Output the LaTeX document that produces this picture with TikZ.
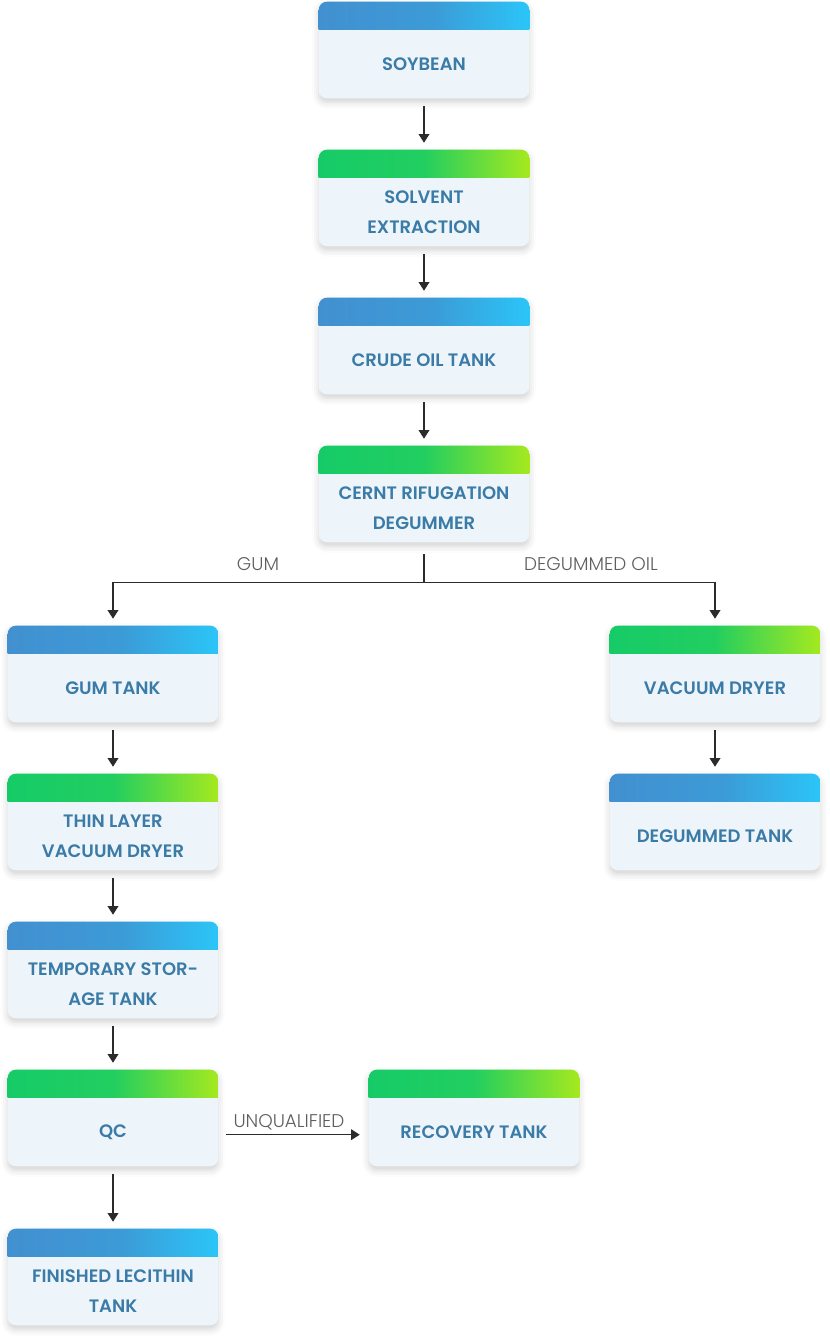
\documentclass[tikz,border=0pt]{standalone}
\usepackage{fontspec}
\usetikzlibrary{positioning,arrows.meta,backgrounds,shadows.blur}

\newfontfamily\stagefont{Poppins SemiBold}
\newfontfamily\notefont{Poppins Light}

\definecolor{bodyfill}{HTML}{EEF5FA}
\definecolor{stagetext}{HTML}{3B7BA7}
\definecolor{notetext}{HTML}{5E5E5E}
\definecolor{wire}{HTML}{2B2B2B}
\definecolor{blueA}{HTML}{4290D0}
\definecolor{blueB}{HTML}{3C9BD6}
\definecolor{blueC}{HTML}{2BC5F8}
\definecolor{greenA}{HTML}{16CB67}
\definecolor{greenB}{HTML}{22CE60}
\definecolor{greenC}{HTML}{A5E91F}

\pgfdeclarehorizontalshading{blueband}{100bp}{color(0bp)=(blueA); color(25bp)=(blueA); color(52bp)=(blueB); color(75bp)=(blueC); color(100bp)=(blueC)}
\pgfdeclarehorizontalshading{greenband}{100bp}{color(0bp)=(greenA); color(25bp)=(greenA); color(50bp)=(greenB); color(75bp)=(greenC); color(100bp)=(greenC)}

\def\headh{21pt}

\begin{document}
\begin{tikzpicture}[x=0.75pt,y=-0.75pt,node distance=111pt]
    \tikzstyle{stage}=[rectangle,minimum width=157.5pt,minimum height=51pt,inner sep=0pt,
        align=center,text=stagetext,font=\stagefont\fontsize{13.5}{22.5}\selectfont]
    \tikzstyle{note}=[text=notetext,font=\notefont\fontsize{13.8}{16}\selectfont]
    \tikzstyle{flow}=[-{Triangle[width=8pt,length=6.5pt]},draw=wire,line width=1.1pt,
        shorten <=6pt,shorten >=5.25pt]
    \tikzstyle{branch}=[draw=wire,line width=1.1pt]

    \useasboundingbox (0,0) rectangle (829,1344);

    % Main column
    \node[stage] (soy) at (424,64) {SOYBEAN};
    \node[stage,below of=soy] (ext) {SOLVENT\\EXTRACTION};
    \node[stage,below of=ext] (crude) {CRUDE OIL TANK};
    \node[stage,below of=crude] (cernt) {CERNT RIFUGATION\\DEGUMMER};

    % Gum side
    \node[stage] (gum) at (113,688) {GUM TANK};
    \node[stage,below of=gum] (thin) {THIN LAYER\\VACUUM DRYER};
    \node[stage,below of=thin] (temp) {TEMPORARY STOR-\\AGE TANK};
    \node[stage,below of=temp] (qc) {QC};
    \node[stage,below of=qc,node distance=119.25pt] (fin) {FINISHED LECITHIN\\TANK};
    \node[stage,right of=qc,node distance=270.75pt] (rec) {RECOVERY TANK};

    % Oil side
    \node[stage] (vac) at (715,688) {VACUUM DRYER};
    \node[stage,below of=vac] (deg) {DEGUMMED TANK};

    % Cards: body, shadow and coloured head
    \begin{scope}[on background layer]
    \foreach \n/\band in {soy/blueband,ext/greenband,crude/blueband,cernt/greenband,
        gum/blueband,thin/greenband,temp/blueband,qc/greenband,fin/blueband,
        rec/greenband,vac/greenband,deg/blueband}
    {
        \fill[bodyfill,rounded corners=6pt,
            blur shadow={shadow xshift=0pt,shadow yshift=-3pt,shadow blur radius=5pt,shadow opacity=18}]
            ([yshift=\headh]\n.north west) rectangle (\n.south east);
        \begin{scope}
            \clip[rounded corners=6pt] ([yshift=\headh]\n.north west) rectangle (\n.south east);
            \shade[shading=\band] ([yshift=\headh]\n.north west) rectangle (\n.north east);
        \end{scope}
    }
    \end{scope}

    % Straight steps
    \foreach \a/\b in {soy/ext,ext/crude,crude/cernt,gum/thin,thin/temp,temp/qc,qc/fin,vac/deg}
        \draw[flow] (\a.south) -- ([yshift=\headh]\b.north);

    % Split after the degummer
    \coordinate[below=30pt of cernt] (split);
    \draw[branch] ([yshift=-9pt]cernt.south) -- (split);
    \draw[flow,shorten <=0pt] (split) -| ([yshift=\headh]gum.north);
    \draw[flow,shorten <=0pt] (split) -| ([yshift=\headh]vac.north);
    \node[note] (gumnote) at (258,564) {GUM};
    \node[note] (oilnote) at (591,564) {DEGUMMED OIL};

    % Rejected batches
    \draw[flow,shorten >=6.75pt] ([yshift=-2pt]qc.east) -- ([yshift=-2pt]rec.west);
    \node[note] (qcnote) at (289,1122) {UNQUALIFIED};
\end{tikzpicture}
\end{document}
